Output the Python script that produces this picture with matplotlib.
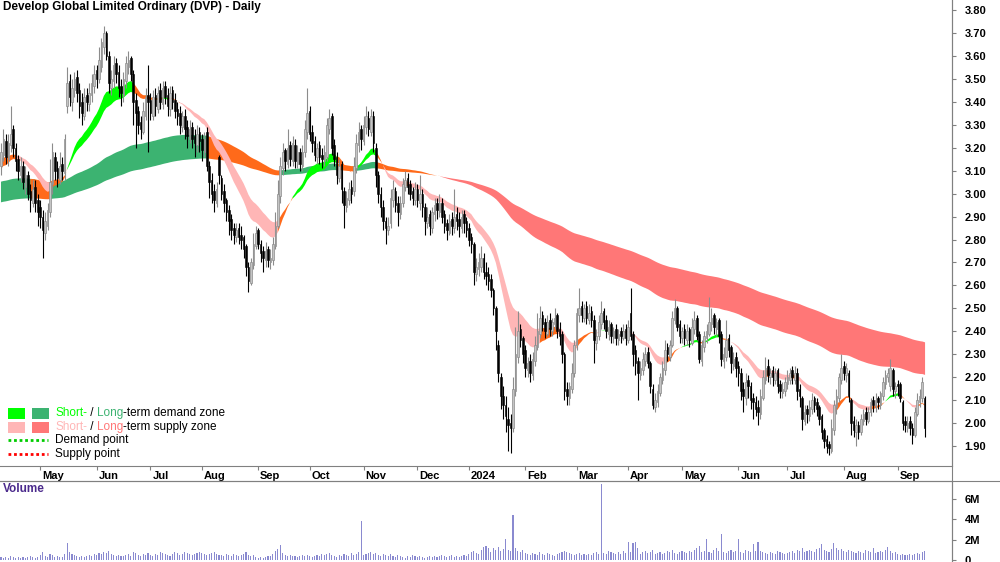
import numpy as np
import pandas as pd
import matplotlib
matplotlib.use('Agg')
from matplotlib import pyplot as plt
from matplotlib.patches import Rectangle
from matplotlib.lines import Line2D
import matplotlib.transforms as mtransforms

plt.rcParams['font.family'] = ['Liberation Sans', 'DejaVu Sans']

title = 'Develop Global Limited Ordinary (DVP) - Daily'
first_day = '2023-04-07'

# daily prices in cents
opens = [
    312, 317, 323, 315, 321, 328, 320, 315, 308, 312,
    303, 308, 301, 296, 303, 297, 294, 290, 283, 286,
    292, 304, 316, 311, 306, 313, 309, 338, 349, 340,
    345, 351, 345, 340, 334, 343, 339, 343, 347, 354,
    350, 355, 364, 370, 360, 346, 349, 357, 353, 347,
    343, 349, 355, 359, 352, 341, 336, 331, 327, 334,
    343, 341, 334, 343, 337, 345, 339, 347, 343, 337,
    345, 341, 337, 335, 329, 334, 329, 324, 329, 325,
    321, 327, 324, 318, 327, 312, 306, 301, 296, 316,
    307, 301, 297, 293, 289, 285, 281, 285, 282, 281,
    277, 268, 261, 269, 277, 284, 278, 275, 271, 276,
    270, 271, 277, 286, 299, 311, 319, 313, 321, 314,
    321, 313, 318, 312, 318, 327, 336, 327, 323, 316,
    321, 317, 314, 316, 328, 334, 321, 316, 307, 313,
    301, 294, 297, 303, 301, 311, 321, 328, 323, 329,
    333, 327, 334, 320, 308, 300, 294, 288, 284, 287,
    297, 301, 296, 291, 296, 303, 307, 304, 301, 297,
    302, 296, 300, 294, 287, 291, 285, 291, 296, 292,
    296, 291, 287, 283, 289, 285, 291, 289, 285, 291,
    288, 285, 281, 278, 265, 267, 268, 272, 266, 265,
    263, 258, 250, 234, 220, 212, 208, 202, 200, 198,
    214, 229, 241, 237, 232, 223, 227, 221, 227, 233,
    239, 247, 244, 239, 245, 240, 243, 247, 241, 239,
    230, 215, 211, 215, 222, 234, 247, 251, 246, 251,
    245, 249, 245, 235, 238, 243, 249, 245, 239, 243,
    237, 241, 236, 240, 237, 241, 236, 248, 239, 232,
    227, 221, 223, 227, 231, 226, 215, 207, 209, 213,
    219, 223, 233, 229, 234, 245, 250, 243, 237, 241,
    236, 241, 235, 241, 246, 239, 227, 233, 237, 239,
    243, 247, 241, 245, 239, 227, 229, 237, 233, 225,
    229, 225, 222, 215, 211, 219, 216, 211, 209, 207,
    204, 211, 219, 225, 220, 223, 219, 223, 217, 213,
    214, 217, 219, 223, 219, 222, 215, 211, 201, 206,
    203, 206, 211, 209, 207, 203, 197, 193, 191, 188,
    197, 207, 211, 219, 225, 221, 222, 210, 201, 196,
    199, 196, 201, 205, 201, 205, 210, 207, 211, 208,
    212, 217, 220, 216, 223, 214, 217, 217, 209, 201,
    198, 201, 198, 195, 204, 209, 211, 211,
]
highs = [
    322, 328, 326, 326, 338, 330, 322, 317, 316, 314,
    312, 310, 304, 306, 306, 300, 297, 293, 292, 296,
    315, 322, 318, 314, 318, 316, 326, 355, 352, 350,
    353, 354, 348, 344, 346, 346, 348, 352, 356, 356,
    364, 368, 373, 371, 362, 354, 360, 359, 356, 350,
    353, 360, 362, 360, 354, 344, 338, 334, 340, 346,
    356, 344, 345, 346, 347, 348, 349, 349, 346, 347,
    347, 344, 340, 338, 336, 337, 332, 332, 331, 328,
    330, 329, 326, 327, 329, 314, 309, 304, 305, 317,
    308, 304, 298, 295, 291, 287, 287, 287, 286, 282,
    278, 270, 272, 283, 286, 285, 280, 277, 279, 277,
    276, 281, 292, 306, 316, 322, 320, 328, 323, 325,
    324, 321, 320, 321, 332, 346, 338, 330, 325, 322,
    323, 320, 321, 333, 337, 335, 324, 318, 315, 314,
    303, 301, 305, 306, 316, 326, 331, 330, 334, 338,
    336, 337, 336, 322, 310, 303, 297, 290, 290, 302,
    306, 303, 299, 299, 307, 310, 309, 306, 303, 305,
    304, 308, 302, 296, 294, 293, 294, 298, 298, 300,
    298, 293, 289, 291, 292, 302, 294, 292, 293, 293,
    290, 287, 283, 279, 272, 274, 277, 274, 270, 268,
    265, 259, 251, 236, 222, 216, 212, 207, 204, 220,
    242, 249, 243, 238, 234, 229, 230, 231, 238, 248,
    251, 249, 246, 247, 248, 246, 250, 248, 244, 240,
    231, 218, 218, 226, 236, 250, 259, 253, 252, 253,
    252, 251, 247, 241, 247, 253, 250, 247, 245, 244,
    242, 243, 241, 242, 243, 243, 245, 259, 240, 234,
    229, 227, 231, 233, 233, 227, 217, 213, 217, 222,
    227, 236, 235, 236, 249, 254, 251, 245, 242, 243,
    243, 242, 246, 249, 247, 240, 236, 240, 243, 255,
    250, 248, 246, 246, 240, 233, 245, 239, 234, 231,
    231, 227, 224, 218, 222, 221, 218, 213, 212, 210,
    215, 223, 229, 228, 224, 225, 224, 224, 219, 218,
    220, 223, 224, 225, 225, 224, 217, 212, 208, 208,
    210, 213, 212, 211, 208, 204, 198, 195, 192, 202,
    210, 215, 222, 230, 227, 226, 223, 211, 203, 202,
    201, 204, 206, 207, 207, 211, 212, 213, 212, 214,
    220, 223, 224, 228, 224, 218, 219, 218, 210, 203,
    203, 203, 200, 207, 213, 215, 220, 212,
]
lows = [
    308, 314, 313, 312, 318, 316, 310, 306, 305, 302,
    300, 297, 292, 294, 292, 286, 285, 272, 280, 284,
    290, 300, 306, 303, 304, 306, 306, 335, 338, 336,
    342, 340, 333, 330, 332, 336, 336, 340, 344, 346,
    348, 353, 361, 358, 344, 343, 346, 348, 342, 338,
    340, 346, 352, 349, 330, 320, 326, 324, 326, 332,
    318, 332, 332, 334, 335, 337, 337, 339, 334, 334,
    337, 333, 330, 326, 327, 324, 320, 322, 320, 316,
    318, 318, 314, 316, 310, 298, 296, 292, 294, 304,
    297, 292, 288, 282, 280, 278, 279, 278, 276, 272,
    264, 257, 260, 267, 276, 276, 270, 266, 268, 268,
    267, 269, 276, 285, 296, 308, 310, 311, 312, 312,
    311, 311, 310, 310, 316, 324, 323, 318, 314, 313,
    313, 311, 312, 314, 326, 317, 312, 304, 305, 296,
    285, 292, 295, 296, 299, 309, 318, 319, 321, 326,
    325, 325, 318, 303, 296, 290, 284, 278, 282, 285,
    294, 292, 286, 289, 294, 301, 300, 297, 295, 295,
    294, 293, 290, 282, 285, 282, 283, 288, 289, 290,
    287, 283, 280, 282, 282, 283, 284, 281, 283, 283,
    281, 277, 274, 260, 262, 264, 266, 263, 260, 258,
    255, 247, 232, 218, 206, 202, 196, 188, 187, 196,
    212, 226, 233, 226, 220, 220, 218, 219, 225, 232,
    237, 240, 237, 238, 238, 238, 241, 237, 234, 226,
    210, 208, 208, 213, 220, 232, 244, 244, 244, 243,
    243, 242, 226, 232, 236, 241, 241, 237, 236, 235,
    235, 234, 234, 235, 236, 234, 235, 236, 225, 221,
    210, 219, 221, 225, 224, 213, 206, 205, 207, 212,
    217, 221, 227, 227, 233, 243, 240, 235, 235, 234,
    234, 233, 234, 239, 236, 226, 225, 231, 235, 238,
    240, 239, 238, 235, 225, 224, 227, 229, 222, 223,
    220, 216, 210, 205, 208, 211, 206, 202, 203, 199,
    202, 210, 217, 218, 217, 216, 217, 213, 211, 211,
    212, 215, 217, 217, 217, 210, 207, 197, 199, 200,
    201, 204, 205, 203, 199, 193, 189, 187, 186, 187,
    195, 204, 209, 217, 219, 218, 209, 195, 194, 190,
    193, 195, 199, 199, 200, 203, 205, 205, 206, 206,
    210, 215, 218, 214, 212, 211, 212, 209, 197, 196,
    196, 195, 191, 194, 203, 207, 209, 194,
]
closes = [
    318, 324, 316, 322, 326, 320, 314, 310, 312, 305,
    308, 300, 297, 302, 296, 292, 290, 284, 288, 293,
    305, 318, 310, 307, 312, 310, 324, 348, 342, 346,
    350, 344, 338, 335, 342, 340, 344, 348, 352, 350,
    358, 366, 370, 360, 348, 350, 356, 352, 346, 344,
    350, 357, 358, 352, 340, 335, 330, 328, 336, 342,
    340, 335, 342, 338, 344, 340, 346, 342, 338, 344,
    340, 336, 334, 330, 334, 328, 325, 328, 324, 322,
    326, 323, 319, 324, 312, 305, 300, 297, 302, 308,
    300, 296, 292, 288, 284, 282, 284, 281, 280, 276,
    268, 262, 270, 278, 283, 278, 274, 272, 275, 271,
    272, 278, 286, 300, 312, 318, 314, 320, 315, 322,
    314, 318, 313, 318, 328, 335, 326, 322, 317, 320,
    316, 315, 318, 330, 333, 320, 315, 308, 312, 302,
    295, 298, 302, 300, 312, 322, 327, 324, 330, 334,
    328, 334, 322, 308, 300, 294, 288, 285, 286, 298,
    302, 295, 292, 296, 304, 306, 303, 300, 298, 302,
    297, 300, 294, 288, 290, 286, 292, 295, 293, 296,
    290, 286, 284, 288, 286, 290, 288, 286, 290, 287,
    284, 280, 278, 266, 268, 270, 272, 266, 264, 262,
    258, 250, 240, 222, 212, 208, 203, 199, 198, 215,
    230, 240, 236, 230, 224, 226, 222, 228, 234, 240,
    246, 243, 240, 244, 241, 244, 246, 240, 238, 230,
    214, 212, 216, 222, 234, 248, 250, 247, 250, 246,
    248, 245, 236, 238, 244, 248, 244, 240, 242, 238,
    240, 237, 239, 238, 240, 237, 242, 238, 230, 226,
    222, 224, 228, 230, 226, 216, 208, 210, 214, 220,
    224, 232, 230, 234, 246, 250, 242, 238, 240, 237,
    240, 236, 242, 245, 238, 228, 234, 238, 240, 244,
    246, 242, 244, 238, 228, 230, 236, 232, 226, 228,
    224, 222, 214, 212, 218, 216, 210, 209, 206, 205,
    212, 220, 224, 221, 222, 220, 222, 216, 214, 215,
    218, 220, 222, 220, 222, 214, 212, 202, 205, 204,
    207, 210, 208, 206, 202, 196, 192, 190, 189, 198,
    208, 212, 220, 224, 222, 224, 212, 200, 197, 199,
    196, 202, 204, 202, 205, 209, 208, 210, 209, 213,
    218, 221, 222, 224, 215, 216, 216, 211, 200, 199,
    200, 198, 195, 205, 210, 212, 218, 198,
]
# volume in units of 100,000 shares
volumes = [
    3, 2, 3, 2, 4, 3, 2, 3, 2, 3,
    2, 3, 4, 3, 2, 3, 5, 8, 4, 3,
    6, 5, 3, 4, 3, 3, 6, 17, 8, 6,
    5, 4, 3, 4, 3, 4, 5, 4, 6, 5,
    7, 6, 8, 7, 9, 6, 5, 4, 5, 4,
    4, 5, 6, 4, 8, 7, 5, 4, 6, 5,
    7, 5, 4, 6, 5, 8, 7, 6, 5, 4,
    6, 8, 7, 5, 6, 8, 7, 6, 5, 6,
    7, 8, 7, 6, 5, 6, 7, 8, 6, 5,
    5, 4, 6, 5, 4, 6, 5, 4, 5, 6,
    8, 5, 4, 5, 3, 2, 3, 2, 3, 4,
    4, 6, 9, 11, 15, 7, 5, 4, 5, 4,
    4, 3, 4, 5, 4, 5, 4, 3, 4, 5,
    4, 6, 5, 6, 7, 5, 4, 3, 5, 4,
    6, 5, 4, 7, 5, 6, 8, 38, 5, 6,
    7, 8, 6, 7, 5, 4, 6, 5, 4, 6,
    4, 3, 5, 4, 3, 2, 4, 3, 5, 4,
    3, 4, 3, 2, 3, 4, 3, 4, 3, 4,
    5, 4, 3, 4, 5, 3, 4, 3, 4, 5,
    4, 6, 8, 9, 7, 6, 10, 13, 14, 12,
    8, 12, 10, 13, 9, 11, 21, 10, 9, 44,
    12, 9, 8, 10, 7, 6, 5, 7, 6, 5,
    8, 6, 5, 7, 6, 5, 4, 6, 7, 8,
    9, 8, 7, 6, 5, 6, 7, 5, 6, 5,
    6, 5, 7, 8, 6, 75, 7, 6, 9, 8,
    7, 6, 8, 6, 9, 7, 18, 8, 17, 18,
    12, 6, 8, 9, 7, 8, 10, 6, 7, 8,
    6, 7, 9, 8, 10, 7, 6, 8, 9, 8,
    7, 9, 8, 10, 12, 14, 8, 9, 21, 8,
    7, 10, 12, 9, 26, 8, 7, 9, 10, 8,
    9, 21, 8, 7, 10, 9, 8, 16, 9, 18,
    9, 8, 7, 6, 8, 7, 6, 9, 8, 7,
    6, 7, 8, 9, 7, 10, 9, 12, 8, 9,
    10, 9, 8, 11, 12, 16, 10, 9, 8, 11,
    17, 12, 10, 11, 9, 8, 10, 9, 8, 7,
    9, 8, 7, 10, 9, 8, 12, 7, 8, 9,
    8, 10, 13, 9, 7, 8, 6, 5, 6, 5,
    5, 6, 5, 6, 7, 6, 8, 9,
]

# moving-average zones: (fast span, slow span) and levels at the left edge
short_spans = (20, 30)
short_start = (3.10, 3.15)
long_spans = (130, 220)
long_start = (3.05, 2.96)

short_colors = {'demand': '#00ff00', 'supply': '#ffb6b6', 'mixed': '#ff6a1a'}
long_colors = {'demand': '#3cb371', 'supply': '#ff7777', 'mixed': '#ff6a1a'}

o = np.array(opens) / 100
h = np.array(highs) / 100
l = np.array(lows) / 100
c = np.array(closes) / 100
v = np.array(volumes) / 10
n = len(c)
x = np.arange(n)
dates = pd.bdate_range(first_day, periods=n)


def zone(spans, start):
    lines = []
    for span, s0 in zip(spans, start):
        s = pd.Series(np.r_[s0, c]).ewm(span=span, adjust=False).mean().values
        lines.append(s)
    fast, slow = lines
    rising = np.diff(slow) > 0
    fast, slow = fast[1:], slow[1:]
    above = fast > slow
    state = np.where(above & rising, 'demand',
                     np.where(~above & ~rising, 'supply', 'mixed'))
    return fast, slow, state


def draw_zone(ax, fast, slow, state, colors):
    for key, col in colors.items():
        m = state == key
        m = m | np.r_[False, m[:-1]]
        ax.fill_between(x, fast, slow, where=m, color=col, lw=0,
                        interpolate=False, zorder=1)


W, H = 1000, 562
fig = plt.figure(figsize=(W / 100, H / 100), dpi=100)
ax = fig.add_axes([0, 1 - 466 / H, 952 / W, 466 / H])
axv = fig.add_axes([0, 0, 952 / W, 81 / H])

lf, ls, lst = zone(long_spans, long_start)
sf, ss, sst = zone(short_spans, short_start)
draw_zone(ax, lf, ls, lst, long_colors)
draw_zone(ax, sf, ss, sst, short_colors)

up = c >= o
wl = np.minimum(l, np.minimum(o, c))
wh = np.maximum(h, np.maximum(o, c))
ax.vlines(x[up], wl[up], wh[up], color='#8c8c8c', lw=0.8, zorder=3)
ax.vlines(x[~up], wl[~up], wh[~up], color='black', lw=0.8, zorder=3)
body = np.maximum(np.abs(c - o), 0.004)
bot = np.minimum(o, c)
ax.bar(x[up], body[up], bottom=bot[up], width=0.65, color='#c4c4c4',
       edgecolor='#8c8c8c', lw=0.5, zorder=4)
ax.bar(x[~up], body[~up], bottom=bot[~up], width=0.65, color='black',
       edgecolor='black', lw=0.4, zorder=4)

xlim = (-0.4, 388.2)
ax.set_xlim(*xlim)
ax.set_ylim(1.8131, 3.8436)
for s in ['top', 'left']:
    ax.spines[s].set_visible(False)
for s in ['bottom', 'right']:
    ax.spines[s].set_color('#808080')
ax.yaxis.tick_right()
ax.set_yticks(np.arange(1.9, 3.81, 0.1))
ax.set_yticklabels(['%.2f' % t for t in np.arange(1.9, 3.81, 0.1)])
ax.tick_params(axis='y', length=3, width=0.8, color='#808080', pad=6,
               labelsize=8)
for t in ax.get_yticklabels():
    t.set_fontweight('bold')

mstart = [i for i in range(1, n) if dates[i].month != dates[i - 1].month]
mlabels = [dates[i].strftime('%Y') if dates[i].month == 1 else dates[i].strftime('%b')
           for i in mstart]
ax.set_xticks(mstart)
ax.set_xticklabels(mlabels, ha='left', fontsize=8, fontweight='bold')
ax.tick_params(axis='x', length=3, width=0.8, color='#808080', pad=1)
shift = mtransforms.ScaledTranslation(2 / 100, 1 / 100, fig.dpi_scale_trans)
for t in ax.get_xticklabels():
    t.set_transform(t.get_transform() + shift)

axv.bar(x, v, width=0.45, color='#8a8ad0', lw=0)
axv.set_xlim(*xlim)
axv.set_ylim(-0.2, 7.77)
axv.set_xticks([])
for s in ['bottom', 'left']:
    axv.spines[s].set_visible(False)
for s in ['top', 'right']:
    axv.spines[s].set_color('#808080')
axv.yaxis.tick_right()
axv.set_yticks([0, 2, 4, 6])
axv.set_yticklabels(['0', '2M', '4M', '6M'])
axv.tick_params(axis='y', length=3, width=0.8, color='#808080', pad=6,
                labelsize=8)
for t in axv.get_yticklabels():
    t.set_fontweight('bold')

# lines that run across the right-hand strip
fig.add_artist(Line2D([0, 1], [1 - 481 / H] * 2, color='#808080', lw=0.8))
fig.add_artist(Line2D([952 / W] * 2, [0, 1], color='#808080', lw=0.8))

fig.text(3 / W, 1 - 7 / H, title, fontsize=8.5, fontweight='bold', va='center')
fig.text(3 / W, 1 - 489 / H, 'Volume', fontsize=8.5, fontweight='bold',
         color='#4b2a8c', va='center')

# legend
def px(xp, yp):
    return xp / W, 1 - yp / H


rows = [
    (413, '#00ff00', '#3cb371',
     [('Short-', '#00ff00'), (' / ', 'black'), ('Long', '#3cb371'),
      ('-term demand zone', 'black')]),
    (427, '#ffb6b6', '#ff7777',
     [('Short-', '#ffb6b6'), (' / ', 'black'), ('Long', '#ff7777'),
      ('-term supply zone', 'black')]),
]
renderer = fig.canvas.get_renderer()
for yc, c1, c2, parts in rows:
    for x0, col in [(8, c1), (32, c2)]:
        fig.add_artist(Rectangle(px(x0, yc + 5.5), 17 / W, 11 / H,
                                 transform=fig.transFigure, color=col, lw=0))
    xx = 55
    for txt, col in parts:
        t = fig.text(*px(xx, yc), txt, color=col, fontsize=8.5, va='center')
        bb = t.get_window_extent(renderer)
        xx += bb.width

for yc, col, txt in [(440, '#00cc00', 'Demand point'), (454, '#ff0000', 'Supply point')]:
    fig.add_artist(Line2D([8 / W, 48 / W], [1 - yc / H] * 2, color=col, lw=2,
                          linestyle=(0, (1, 1))))
    fig.text(*px(55, yc), txt, fontsize=8.5, va='center')

fig.savefig('out.png', dpi=100)
